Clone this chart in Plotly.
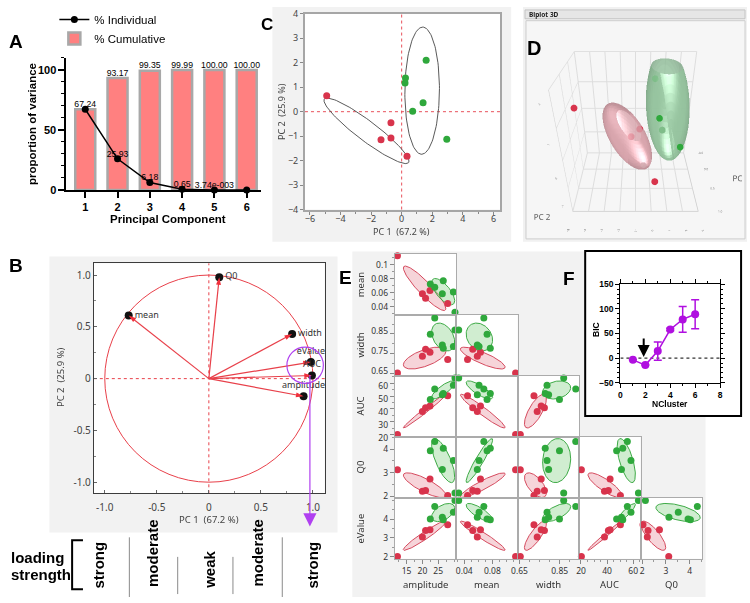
import numpy as np
import plotly.graph_objects as go

W, H = 750, 603
ARIAL = "Liberation Sans, Arial, sans-serif"
JMP = "Noto Sans, Open Sans, sans-serif"
RED_PT = "#D8344C"
GREEN_PT = "#2FA83C"
PURPLE = "#B00FE0"

# ================= DATA =================
# Panel A: scree plot
pc_index = [1, 2, 3, 4, 5, 6]
pct_individual = [67.24, 25.93, 6.18, 0.65, 0.00374, 0.0]
pct_cumulative = [67.24, 93.17, 99.35, 99.99, 100.00, 100.00]
label_individual = ["67.24", "25.93", "6.18", "0.65", "3.74e-003", ""]
label_cumulative = ["", "93.17", "99.35", "99.99", "100.00", "100.00"]

# Panel B: loadings
load_names = ["Q0", "mean", "width", "eValue", "AUC", "amplitude"]
load_pc1 = [0.10, -0.77, 0.80, 0.98, 0.99, 0.91]
load_pc2 = [0.98, 0.61, 0.43, 0.16, 0.03, -0.17]
load_textpos = ["middle right", "middle right", "middle right", "top center", "top center", "top center"]
highlight_center = [0.925, 0.13]
highlight_radius = 0.175
strength_labels = ["strong", "moderate", "weak", "moderate", "strong"]

# Panel C / D: PC scores
score_pc1_red = [-4.9, -0.7, -1.35, -0.7, 0.35]
score_pc2_red = [0.65, -0.45, -1.15, -1.08, -1.82]
score_pc3_red = [0.12, -0.16, -0.45, -0.56, 0.43]
score_pc1_green = [1.6, 0.25, 0.22, 1.4, 0.72, 2.95]
score_pc2_green = [2.1, 1.38, 1.17, 0.37, 0.02, -1.13]
score_pc3_green = [-0.5, -0.15, 0.9, 0.95, 0.25, -0.53]
ellipse_c_center = [(-2.3, -0.78), (1.34, 0.86)]
ellipse_c_semi = [(3.05, 0.46), (2.6, 1.13)]
ellipse_c_angle = [-24.7, 89.0]
ellipsoid_center = [(-1.5, -0.75, -0.12), (1.0, 0.65, 0.18)]
ellipsoid_semi = [(2.0, 0.85, 0.45), (1.85, 1.3, 0.5)]
ellipsoid_angle = [-31.7, -71.0]

# Panel E: raw variables (5 red, 6 green samples)
group = ["R"] * 5 + ["G"] * 6
amplitude = [12.1, 20.0, 21.0, 22.4, 28.0, 22.5, 23.9, 26.3, 26.6, 29.8, 30.3]
mean = [0.113, 0.0585, 0.052, 0.063, 0.0446, 0.0724, 0.0678, 0.0585, 0.077, 0.061, 0.032]
width = [0.654, 0.738, 0.774, 0.758, 0.722, 0.849, 0.93, 0.795, 0.778, 0.787, 0.870]
AUC = [20.3, 38.0, 41.0, 42.3, 50.2, 47.3, 55.5, 51.0, 52.0, 58.3, 64.0]
Q0 = [3.12, 2.22, 2.25, 2.73, 2.04, 3.93, 4.32, 3.13, 4.03, 3.52, 2.14]
eValue = [2.0, 3.04, 3.39, 3.43, 3.69, 4.0, 4.66, 4.1, 3.96, 4.36, 4.99]

# Panel F: BIC
n_cluster = [1, 2, 3, 4, 5, 6]
bic = [-3.6, -14.2, 14.2, 58.0, 78.5, 89.0]
bic_err = [0, 0, 18.5, 2.5, 26.0, 29.3]

# ================= HELPERS =================
def fx(x):
    return x / W

def fy(y):
    return 1 - y / H

fig = go.Figure()
shapes, annotations = [], []
layout = {}

def rect(x0, y0, x1, y1, fill, line=None, lw=0):
    shapes.append(dict(type="rect", xref="paper", yref="paper", x0=fx(x0), x1=fx(x1),
                       y0=fy(y1), y1=fy(y0), fillcolor=fill,
                       line=dict(color=line if line else fill, width=lw), layer="below"))

def text(x, y, s, size, color="black", family=ARIAL, bold=False, angle=0, xanchor="center", yanchor="middle"):
    annotations.append(dict(x=fx(x), y=fy(y), xref="paper", yref="paper", text=s, showarrow=False,
                            textangle=angle, xanchor=xanchor, yanchor=yanchor,
                            font=dict(size=size, color=color, family=family,
                                      weight="bold" if bold else "normal")))

def pline(x0, y0, x1, y1, color, w=1, dash="solid"):
    shapes.append(dict(type="line", xref="paper", yref="paper", x0=fx(x0), x1=fx(x1), y0=fy(y0), y1=fy(y1),
                       line=dict(color=color, width=w, dash=dash), layer="above"))

def ellipse_xy(cx, cy, a, b, ang_deg, n=120):
    t = np.linspace(0, 2 * np.pi, n)
    th = np.deg2rad(ang_deg)
    x = cx + a * np.cos(t) * np.cos(th) - b * np.sin(t) * np.sin(th)
    y = cy + a * np.cos(t) * np.sin(th) + b * np.sin(t) * np.cos(th)
    return x, y

def cov_ellipse(xs, ys, k=np.sqrt(-2 * np.log(0.5)), n=120):
    xs = np.asarray(xs, float)
    ys = np.asarray(ys, float)
    cov = np.cov(np.vstack([xs, ys]))
    vals, vecs = np.linalg.eigh(cov)
    t = np.linspace(0, 2 * np.pi, n)
    circ = np.vstack([np.cos(t), np.sin(t)])
    pts = vecs @ (np.sqrt(np.maximum(vals, 0))[:, None] * circ) * k
    return xs.mean() + pts[0], ys.mean() + pts[1]

def dom_x(a, b):
    return [fx(a), fx(b)]

def dom_y(top, bottom):
    return [fy(bottom), fy(top)]

# ================= BACKGROUNDS =================
rect(269, 0, 511, 240, "#F2F2F2")          # C
rect(302, 7, 500, 207, "white")
rect(43, 255, 335, 537, "#F2F2F2")         # B
rect(88, 262, 322, 497, "white")
rect(523, 0, 750, 240, "#F1F1F1")          # D
rect(525, 3, 748, 12, "#E6E6E6", "#C4C4C4", 1)
rect(526, 14, 748, 237, "#F6F6F6", "#CDCDCD", 1)
rect(350, 250, 708, 603, "#F2F2F2")        # E

# ================= PANEL A =================
fig.add_trace(go.Bar(x=pc_index, y=pct_cumulative, width=0.62, name="% Cumulative",
                     marker=dict(color="#FF8080", line=dict(color="#A8A8A8", width=2.5)),
                     xaxis="x", yaxis="y", legendrank=2, hoverinfo="skip"))
fig.add_trace(go.Scatter(x=pc_index, y=pct_individual, mode="lines+markers", name="% Individual",
                         line=dict(color="black", width=1.5), marker=dict(color="black", size=7),
                         xaxis="x", yaxis="y", legendrank=1, cliponaxis=False))
fig.add_trace(go.Scatter(x=pc_index, y=pct_cumulative, mode="text", text=label_cumulative,
                         textposition="top center", textfont=dict(family=ARIAL, size=8.7, color="black"),
                         showlegend=False, cliponaxis=False, xaxis="x", yaxis="y", hoverinfo="skip"))
fig.add_trace(go.Scatter(x=pc_index, y=pct_individual, mode="text", text=label_individual,
                         textposition="top center", textfont=dict(family=ARIAL, size=8.7, color="black"),
                         showlegend=False, cliponaxis=False, xaxis="x", yaxis="y", hoverinfo="skip"))
layout["xaxis"] = dict(domain=dom_x(60, 257), range=[0.41, 6.43], anchor="y", tickvals=pc_index,
                       ticks="outside", ticklen=6, tickwidth=1.5, tickcolor="black",
                       showline=True, linecolor="black", linewidth=1.5, showgrid=False, zeroline=False,
                       tickfont=dict(family=ARIAL, size=11, color="black", weight="bold"))
layout["yaxis"] = dict(domain=dom_y(52, 187), range=[0, 110], anchor="x", tickvals=[0, 50, 100],
                       ticks="outside", ticklen=6, tickwidth=1.5, tickcolor="black",
                       minor=dict(dtick=10, ticks="outside", ticklen=3, tickwidth=1.2, tickcolor="black"),
                       showline=True, linecolor="black", linewidth=1.5, showgrid=False, zeroline=False,
                       tickfont=dict(family=ARIAL, size=11, color="black", weight="bold"))
text(26, 120, "proportion of variance", 11.5, bold=True, angle=-90)
text(163, 217, "Principal Component", 11.5, bold=True)

# ================= PANEL C =================
for (cx, cy), (a, b), ang in zip(ellipse_c_center, ellipse_c_semi, ellipse_c_angle):
    ex, ey = ellipse_xy(cx, cy, a, b, ang)
    fig.add_trace(go.Scatter(x=ex, y=ey, mode="lines", line=dict(color="#5A5A5A", width=1),
                             xaxis="x2", yaxis="y2", showlegend=False, hoverinfo="skip"))
fig.add_trace(go.Scatter(x=score_pc1_red, y=score_pc2_red, mode="markers", marker=dict(color=RED_PT, size=7),
                         xaxis="x2", yaxis="y2", showlegend=False))
fig.add_trace(go.Scatter(x=score_pc1_green, y=score_pc2_green, mode="markers", marker=dict(color=GREEN_PT, size=7),
                         xaxis="x2", yaxis="y2", showlegend=False))
shapes.append(dict(type="line", xref="x2", yref="y2 domain", x0=0, x1=0, y0=0, y1=1,
                   line=dict(color="#E8505A", width=1, dash="dot"), layer="below"))
shapes.append(dict(type="line", xref="x2 domain", yref="y2", x0=0, x1=1, y0=0, y1=0,
                   line=dict(color="#E8505A", width=1, dash="dot"), layer="below"))
layout["xaxis2"] = dict(domain=dom_x(302, 500), range=[-6.32, 6.45], anchor="y2",
                        tickvals=[-6, -4, -2, 0, 2, 4, 6], ticks="outside", ticklen=3, tickcolor="#888",
                        ticklabelstandoff=-3,
                        minor=dict(tickvals=[-5, -3, -1, 1, 3, 5], ticks="outside", ticklen=2, tickcolor="#888"),
                        showline=True, mirror=True, linecolor="#A6A6A6", linewidth=2, showgrid=False, zeroline=False,
                        tickfont=dict(family=JMP, size=9, color="#444"))
layout["yaxis2"] = dict(domain=dom_y(7, 207), range=[-4, 4], anchor="x2",
                        tickvals=[-4, -3, -2, -1, 0, 1, 2, 3, 4], ticks="outside", ticklen=3, tickcolor="#888",
                        showline=True, mirror=True, linecolor="#A6A6A6", linewidth=2, showgrid=False, zeroline=False,
                        tickfont=dict(family=JMP, size=9, color="#444"))
text(400, 229, "PC 1 \u00a0(67.2 %)", 9, color="#444", family=JMP)
text(278, 107, "PC 2 \u00a0(25.9 %)", 9, color="#444", family=JMP, angle=-90)

# ================= PANEL B =================
shapes.append(dict(type="circle", xref="x3", yref="y3", x0=-1, x1=1, y0=-1, y1=1,
                   line=dict(color="#E8404A", width=1), layer="below"))
shapes.append(dict(type="line", xref="x3", yref="y3 domain", x0=0, x1=0, y0=0, y1=1,
                   line=dict(color="#E8404A", width=1, dash="dot"), layer="below"))
shapes.append(dict(type="line", xref="x3 domain", yref="y3", x0=0, x1=1, y0=0, y1=0,
                   line=dict(color="#E8404A", width=1, dash="dot"), layer="below"))
seg_x, seg_y = [], []
for x1, y1 in zip(load_pc1, load_pc2):
    seg_x += [0, x1, None]
    seg_y += [0, y1, None]
fig.add_trace(go.Scatter(x=seg_x, y=seg_y, mode="lines", line=dict(color="#E8404A", width=1.2),
                         xaxis="x3", yaxis="y3", showlegend=False, hoverinfo="skip"))
fig.add_trace(go.Scatter(x=load_pc1, y=load_pc2, mode="markers", marker=dict(color="#111", size=8),
                         xaxis="x3", yaxis="y3", showlegend=False, cliponaxis=False))
arrow_angles = [float(np.degrees(np.arctan2(x1, y1))) for x1, y1 in zip(load_pc1, load_pc2)]
fig.add_trace(go.Scatter(x=load_pc1, y=load_pc2, mode="markers+text", text=load_names, textposition=load_textpos,
                         textfont=dict(family=JMP, size=9, color="#333"),
                         marker=dict(color="#F0303C", size=8, symbol="arrow", angle=arrow_angles),
                         xaxis="x3", yaxis="y3", showlegend=False, cliponaxis=False))
shapes.append(dict(type="circle", xref="x3", yref="y3",
                   x0=highlight_center[0] - highlight_radius, x1=highlight_center[0] + highlight_radius,
                   y0=highlight_center[1] - highlight_radius, y1=highlight_center[1] + highlight_radius,
                   line=dict(color="#B040F0", width=1.2), layer="above"))
annotations.append(dict(x=fx(307), y=fy(531), xref="paper", yref="paper", ax=0, ay=-(531 - 378),
                        axref="pixel", ayref="pixel", showarrow=True, arrowhead=2, arrowsize=2.2,
                        arrowwidth=1.2, arrowcolor="#B040F0", text=""))
tickB = [-1, -0.5, 0, 0.5, 1]
tickB_txt = ["-1.0", "-0.5", "0", "0.5", "1.0"]
layout["xaxis3"] = dict(domain=dom_x(88, 322), range=[-1.105, 1.113], anchor="y3", tickvals=tickB, ticktext=tickB_txt,
                        ticks="inside", ticklen=3, tickcolor="#666", ticklabelstandoff=5,
                        minor=dict(tickvals=[-0.75, -0.25, 0.25, 0.75], ticks="inside", ticklen=2, tickcolor="#888"),
                        showline=True, mirror=True, linecolor="#3C3C3C", linewidth=1, showgrid=False, zeroline=False,
                        tickfont=dict(family=JMP, size=10, color="#444"))
layout["yaxis3"] = dict(domain=dom_y(262, 497), range=[-1.107, 1.113], anchor="x3", tickvals=tickB, ticktext=tickB_txt,
                        ticks="inside", ticklen=3, tickcolor="#666",
                        minor=dict(tickvals=[-0.75, -0.25, 0.25, 0.75], ticks="inside", ticklen=2, tickcolor="#888"),
                        showline=True, mirror=True, linecolor="#3C3C3C", linewidth=1, showgrid=False, zeroline=False,
                        tickfont=dict(family=JMP, size=10, color="#444"))
text(205, 524, "PC 1 \u00a0(67.2 %)", 9.5, color="#444", family=JMP)
text(55, 378, "PC 2 \u00a0(25.9 %)", 9.5, color="#444", family=JMP, angle=-90)

# loading strength
text(2, 563, "loading", 15, bold=True, xanchor="left")
text(2, 580, "strength", 15, bold=True, xanchor="left")
shapes.append(dict(type="path", xref="paper", yref="paper",
                   path="M {} {} L {} {} L {} {} L {} {}".format(fx(77), fy(545), fx(66), fy(545), fx(66), fy(595), fx(77), fy(595)),
                   line=dict(color="black", width=2)))
strength_x = [93, 148, 205, 254, 310]
strength_y = [570, 558, 575, 558, 570]
for s, sx, sy in zip(strength_labels, strength_x, strength_y):
    text(sx, sy, s, 15, bold=True, angle=-90)
for lx, ly0, ly1 in [(124, 542, 603), (173, 562, 600), (229, 562, 600), (279, 542, 603)]:
    pline(lx, ly0, lx, ly1, "#8A8A8A", 1)

# ================= PANEL F =================
shapes.append(dict(type="rect", xref="paper", yref="paper", x0=fx(586), x1=fx(744), y0=fy(418), y1=fy(249.3),
                   fillcolor="white", line=dict(color="black", width=2), layer="below"))
shapes.append(dict(type="line", xref="x4", yref="y4", x0=0, x1=8, y0=0, y1=0,
                   line=dict(color="#333", width=1.3, dash="dot"), layer="below"))
fig.add_trace(go.Scatter(x=n_cluster, y=bic, mode="lines+markers", line=dict(color=PURPLE, width=1.5),
                         marker=dict(color=PURPLE, size=8),
                         error_y=dict(type="data", array=bic_err, visible=True, color=PURPLE, thickness=1.5, width=4),
                         xaxis="x4", yaxis="y4", showlegend=False, cliponaxis=False))
annotations.append(dict(x=1.87, y=2, xref="x4", yref="y4", ax=1.87, ay=43, axref="x4", ayref="y4",
                        showarrow=True, arrowhead=2, arrowsize=1.2, arrowwidth=2, arrowcolor="black", text=""))
layout["xaxis4"] = dict(domain=dom_x(621.7, 722.7), range=[0, 8], anchor="y4", tickvals=[0, 2, 4, 6, 8],
                        ticks="outside", ticklen=4, tickwidth=1.3, tickcolor="black",
                        minor=dict(tickvals=[1, 3, 5, 7], ticks="outside", ticklen=2, tickcolor="black"),
                        showline=True, mirror="ticks", linecolor="black", linewidth=1.3, showgrid=False, zeroline=False,
                        tickfont=dict(family=ARIAL, size=8.5, color="black", weight="bold"))
layout["yaxis4"] = dict(domain=dom_y(283.3, 384), range=[-50, 150], anchor="x4", tickvals=[-50, 0, 50, 100, 150],
                        ticks="outside", ticklen=4, tickwidth=1.3, tickcolor="black",
                        minor=dict(dtick=10, ticks="outside", ticklen=2, tickcolor="black"),
                        showline=True, mirror="ticks", linecolor="black", linewidth=1.3, showgrid=False, zeroline=False,
                        tickfont=dict(family=ARIAL, size=8.5, color="black", weight="bold"))
text(597, 330, "BIC", 8.5, bold=True, angle=-90)
text(672, 406, "NCluster", 8.5, bold=True)

# ================= PANEL E =================
row_vars = ["mean", "width", "AUC", "Q0", "eValue"]
col_vars = ["amplitude", "mean", "width", "AUC", "Q0"]
var_data = {"amplitude": amplitude, "mean": mean, "width": width, "AUC": AUC, "Q0": Q0, "eValue": eValue}
var_range = {"amplitude": [11.25, 30.7], "mean": [0.0285, 0.116], "width": [0.641, 0.947],
             "AUC": [18.6, 65.7], "Q0": [1.94, 4.52], "eValue": [1.88, 5.13]}
ticks_y = {"mean": ([0.04, 0.06, 0.08, 0.1], ["0.04", "0.06", "0.08", "0.1"]),
           "width": ([0.65, 0.75, 0.85], ["0.65", "0.75", "0.85"]),
           "AUC": ([20, 30, 40, 50, 60], ["20", "30", "40", "50", "60"]),
           "Q0": ([2, 3, 4], ["2", "3", "4"]),
           "eValue": ([2, 3, 4], ["2", "3", "4"])}
ticks_x = {"amplitude": ([15, 20, 25], ["15", "20", "25"]),
           "mean": ([0.04, 0.08], ["0.04", "0.08"]),
           "width": ([0.65, 0.85], ["0.65", "0.85"]),
           "AUC": ([20, 40, 60], ["20", "40", "60"]),
           "Q0": ([2, 3, 4], ["2", "3", "4"])}
label_shift_y = {"mean": 0, "width": -3, "AUC": 3, "Q0": 0, "eValue": 0}
minor_dt = {"amplitude": 2.5, "mean": 0.01, "width": 0.05, "AUC": 5, "Q0": 0.5, "eValue": 0.5}
colL = [393, 455.3, 517.6, 579.9, 642.2]
rowT = [252, 314.4, 376.8, 439.2, 501.6]
cw, rh = 62.3, 62.4
grp = np.array(group)
fills = {"R": ("rgba(236,160,170,0.45)", "#D54A5E", RED_PT), "G": ("rgba(150,215,150,0.45)", "#3DAA45", GREEN_PT)}

idx = 5
for r, yv in enumerate(row_vars):
    for c in range(r + 1):
        xv = col_vars[c]
        xa, ya = "x%d" % idx, "y%d" % idx
        shapes.append(dict(type="rect", xref=xa + " domain", yref=ya + " domain", x0=0, x1=1, y0=0, y1=1,
                           fillcolor="white", line=dict(width=0), layer="below"))
        xs = np.array(var_data[xv])
        ys = np.array(var_data[yv])
        for g in ["R", "G"]:
            m = grp == g
            ex, ey = cov_ellipse(xs[m], ys[m])
            fig.add_trace(go.Scatter(x=ex, y=ey, mode="lines", fill="toself", fillcolor=fills[g][0],
                                     line=dict(color=fills[g][1], width=1), xaxis=xa, yaxis=ya,
                                     showlegend=False, hoverinfo="skip"))
        for g in ["R", "G"]:
            m = grp == g
            fig.add_trace(go.Scatter(x=xs[m], y=ys[m], mode="markers", marker=dict(color=fills[g][2], size=7),
                                     xaxis=xa, yaxis=ya, showlegend=False, cliponaxis=False))
        bottom = (r == len(row_vars) - 1)
        left = (c == 0)
        layout["xaxis%d" % idx] = dict(domain=dom_x(colL[c], colL[c] + cw), range=var_range[xv], anchor=ya,
                                       tickvals=ticks_x[xv][0], ticktext=ticks_x[xv][1],
                                       showticklabels=bottom, ticks="outside" if bottom else "", ticklen=4, tickcolor="#888",
                                       minor=dict(dtick=minor_dt[xv], ticks="outside" if bottom else "", ticklen=2, tickcolor="#999"),
                                       showline=True, mirror=True, linecolor="#ABABAB", linewidth=1,
                                       showgrid=False, zeroline=False,
                                       tickfont=dict(family=JMP, size=8.5, color="#333"))
        layout["yaxis%d" % idx] = dict(domain=dom_y(rowT[r], rowT[r] + rh), range=var_range[yv], anchor=xa,
                                       tickvals=ticks_y[yv][0], ticktext=ticks_y[yv][1],
                                       ticklabelshift=label_shift_y[yv],
                                       showticklabels=left, ticks="outside" if left else "", ticklen=4, tickcolor="#888",
                                       minor=dict(dtick=minor_dt[yv], ticks="outside" if left else "", ticklen=2, tickcolor="#999"),
                                       showline=True, mirror=True, linecolor="#ABABAB", linewidth=1,
                                       showgrid=False, zeroline=False,
                                       tickfont=dict(family=JMP, size=8.5, color="#333"))
        idx += 1
for r, yv in enumerate(row_vars):
    text(358, rowT[r] + rh / 2, yv, 9.5, color="#333", family=JMP, angle=-90)
for c, xv in enumerate(col_vars):
    text(colL[c] + cw / 2, 590, xv, 9.5, color="#333", family=JMP)

# ================= PANEL D (3D) =================
def ellipsoid(center, semi, ang_deg, nu=48, nv=24):
    u = np.linspace(0, 2 * np.pi, nu)
    v = np.linspace(0, np.pi, nv)
    uu, vv = np.meshgrid(u, v)
    ex = semi[0] * np.cos(uu) * np.sin(vv)
    ey = semi[1] * np.sin(uu) * np.sin(vv)
    ez = semi[2] * np.cos(vv)
    th = np.deg2rad(ang_deg)
    p1 = center[0] + ex * np.cos(th) - ey * np.sin(th)
    p2 = center[1] + ex * np.sin(th) + ey * np.cos(th)
    p3 = center[2] + ez
    return p1, p2, p3

for cen, sem, ang, col in zip(ellipsoid_center, ellipsoid_semi, ellipsoid_angle, ["#D7A2AA", "#93C29C"]):
    p1, p2, p3 = ellipsoid(cen, sem, ang)
    fig.add_trace(go.Surface(x=p1, y=-p3, z=p2, surfacecolor=np.zeros_like(p1),
                             colorscale=[[0, col], [1, col]], showscale=False, opacity=0.8,
                             lighting=dict(ambient=0.85, diffuse=0.35, specular=0.35, roughness=0.5, fresnel=0.3),
                             lightposition=dict(x=0, y=-1000, z=1000),
                             hoverinfo="skip", scene="scene"))
fig.add_trace(go.Scatter3d(x=score_pc1_red, y=[-v for v in score_pc3_red], z=score_pc2_red, mode="markers",
                           marker=dict(color=RED_PT, size=4), showlegend=False, scene="scene"))
fig.add_trace(go.Scatter3d(x=score_pc1_green, y=[-v for v in score_pc3_green], z=score_pc2_green, mode="markers",
                           marker=dict(color=GREEN_PT, size=4), showlegend=False, scene="scene"))
ax3d = dict(tickfont=dict(size=6, color="#777", family=JMP), gridcolor="#DDDDDD", showbackground=False,
            zeroline=False, showspikes=False, showline=True, linecolor="#CCCCCC")
layout["scene"] = dict(
    domain=dict(x=dom_x(527, 747), y=dom_y(16, 236)),
    bgcolor="#F6F6F6",
    xaxis=dict(title=dict(text="PC 1", font=dict(size=8, color="#555", family=JMP)), range=[-5, 3],
               tickvals=[-5, -4, -3, -2, -1, 0, 1, 2, 3], **ax3d),
    yaxis=dict(title=dict(text="PC 3", font=dict(size=8, color="#555", family=JMP)), range=[-1.0, 0.5],
               tickvals=[-1.0, -0.5, 0, 0.5], ticktext=["1.0", "0.5", "0.0", "-0.5"], **ax3d),
    zaxis=dict(title=dict(text="PC 2", font=dict(size=8, color="#555", family=JMP)), range=[-2, 2],
               tickvals=[-2, -1, 0, 1, 2], **ax3d),
    aspectmode="manual", aspectratio=dict(x=1.0, y=0.75, z=1.05),
    camera=dict(eye=dict(x=0.0, y=-1.75, z=1.15), center=dict(x=0, y=0, z=0), up=dict(x=0, y=0, z=1)),
)
text(527, 7.5, "Biplot 3D", 6.5, color="#222", family=JMP, bold=True, xanchor="left")

# ================= PANEL LETTERS =================
text(9, 35, "A", 19, bold=True)
text(9, 264, "B", 19, bold=True)
text(264, 18, "C", 17, bold=True)
text(534, 42, "D", 20, bold=True)
text(343, 276, "E", 19, bold=True)
text(570, 277, "F", 19, bold=True)

fig.update_layout(
    width=W, height=H, margin=dict(l=0, r=0, t=0, b=0),
    paper_bgcolor="white", plot_bgcolor="rgba(0,0,0,0)",
    shapes=shapes, annotations=annotations, showlegend=True,
    legend=dict(x=fx(48), y=1 + 2 / H, xanchor="left", yanchor="top", bgcolor="rgba(0,0,0,0)",
                font=dict(family=ARIAL, size=11.5, color="black"), itemwidth=30, tracegroupgap=0),
    **layout,
)
fig.write_html("out.html")
